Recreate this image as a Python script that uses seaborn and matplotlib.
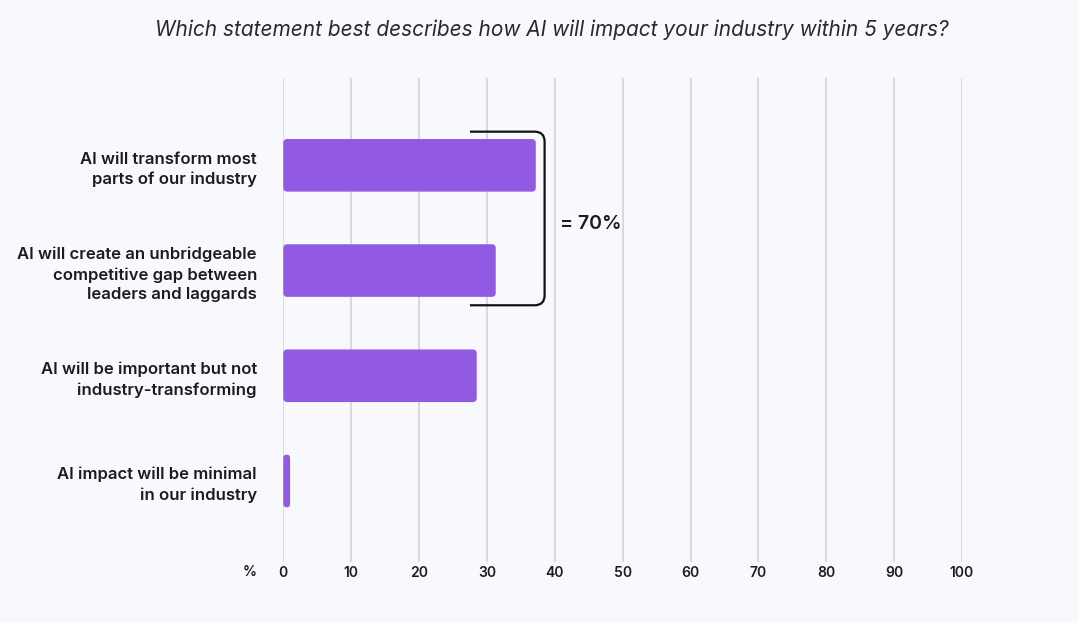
import numpy as np
import matplotlib.pyplot as plt
import seaborn as sns
import pandas as pd
from matplotlib.patches import FancyBboxPatch
from matplotlib.path import Path
from matplotlib.patches import PathPatch

# ============================================================
# data
# ============================================================
statements = ["AI will transform most\nparts of our industry",
              "AI will create an unbridgeable\ncompetitive gap between\nleaders and laggards",
              "AI will be important but not\nindustry-transforming",
              "AI impact will be minimal\nin our industry"]
shares = [37.2, 31.3, 28.5, 1.0]
x_ticks = [0, 10, 20, 30, 40, 50, 60, 70, 80, 90, 100]
bracket_label = "= 70%"
title = "Which statement best describes how AI will impact your industry within 5 years?"

df = pd.DataFrame({"statement": statements, "share": shares})

bg = "#f8f9fc"
bar_color = "#925ae3"
text_color = "#1c1c1e"

sns.set_theme(style="white")
plt.rcParams['font.family'] = ['Inter', 'DejaVu Sans']

fig = plt.figure(figsize=(10.79, 6.23), dpi=100, facecolor=bg)
W, H = 1079, 623
ax = fig.add_axes([283.3 / W, 1 - 562 / H, (962 - 283.3) / W, (562 - 78) / H])
ax.set_facecolor(bg)

sns.barplot(data=df, x="share", y="statement", color=bar_color,
            width=0.5, saturation=1, ax=ax)

ax.set_xlim(0, 100)
ax.set_ylim(3.77, -0.83)

# rounded bars
px_x = (962 - 283.3) / 100
px_y = (562 - 78) / 4.6
for p in list(ax.patches):
    x0, y0 = p.get_x(), p.get_y()
    w, h = p.get_width(), p.get_height()
    r = min(4 / px_x, w / 2)
    fb = FancyBboxPatch((x0, y0), w, h,
                        boxstyle=f"round,pad=0,rounding_size={r}",
                        mutation_aspect=px_x / px_y,
                        facecolor=bar_color, edgecolor="none", zorder=3)
    p.remove()
    ax.add_patch(fb)

ax.set_xticks(x_ticks)
ax.grid(axis='x', color="#d9d9df", linewidth=1.4, zorder=0)
ax.set_axisbelow(True)
for s in ax.spines.values():
    s.set_visible(False)
ax.tick_params(axis='x', length=0, pad=3, labelsize=10, labelcolor=text_color)
for lbl in ax.get_xticklabels():
    lbl.set_fontweight('semibold')
ax.set_yticks(range(len(statements)))
ax.set_yticklabels(statements, fontsize=12, fontweight='semibold',
                   color=text_color, linespacing=1.4, ha='right')
ax.tick_params(axis='y', length=0, pad=19)
ax.set_xlabel("")
ax.set_ylabel("")

# bracket around first two bars
bx0 = shares[0] - 9.7
bx1 = max(shares[:2]) + 1.3
by0, by1 = 0 - 0.32, 1 + 0.33
rx, ry = 10 / px_x, 10 / px_y
verts = [(bx0, by0), (bx1 - rx, by0),
         (bx1, by0), (bx1, by0 + ry),
         (bx1, by1 - ry),
         (bx1, by1), (bx1 - rx, by1),
         (bx0, by1)]
codes = [Path.MOVETO, Path.LINETO, Path.CURVE3, Path.CURVE3,
         Path.LINETO, Path.CURVE3, Path.CURVE3, Path.LINETO]
ax.add_patch(PathPatch(Path(verts, codes), facecolor="none",
                       edgecolor="#111111", linewidth=1.6, clip_on=False, zorder=4))
ax.text(bx1 + 2.2, 0.56, bracket_label, fontsize=14, fontweight='semibold',
        color=text_color, va='center', ha='left')

fig.text(250 / W, 1 - 572 / H, "%", fontsize=10, fontweight='semibold',
         color=text_color, ha='center', va='center')
fig.text(552 / W, 1 - 30 / H, title, fontsize=15, style='italic',
         color="#2a2a2e", ha='center', va='center')

plt.savefig("out.png", dpi=100, facecolor=bg)
plt.close()
